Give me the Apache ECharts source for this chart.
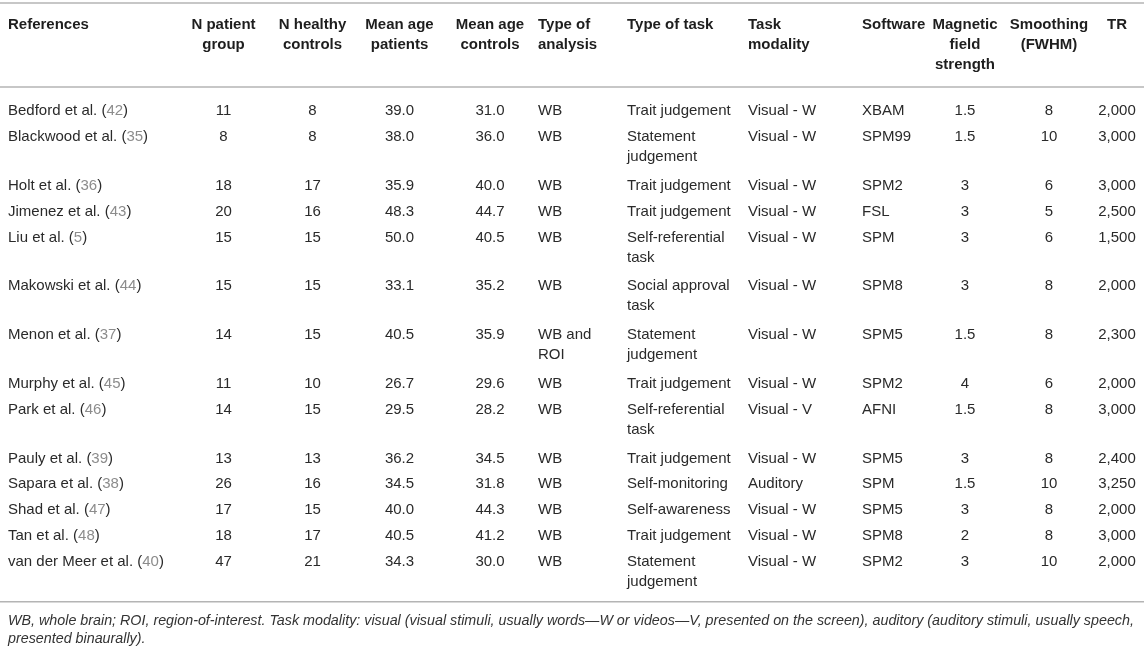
<!DOCTYPE html>
<html><head><meta charset="utf-8">
<script src="https://cdn.jsdelivr.net/npm/echarts@6/dist/echarts.min.js"></script>
<style>html,body{margin:0;padding:0;background:#fff}#c{width:1144px;height:649px}</style>
</head><body><div id="c"></div>
<script>
// ---------- data ----------
const headers = ['References', 'N patient\ngroup', 'N healthy\ncontrols', 'Mean age\npatients', 'Mean age\ncontrols',
  'Type of\nanalysis', 'Type of task', 'Task\nmodality', 'Software', 'Magnetic\nfield\nstrength', 'Smoothing\n(FWHM)', 'TR'];
const authors = ['Bedford et al.', 'Blackwood et al.', 'Holt et al.', 'Jimenez et al.', 'Liu et al.', 'Makowski et al.',
  'Menon et al.', 'Murphy et al.', 'Park et al.', 'Pauly et al.', 'Sapara et al.', 'Shad et al.', 'Tan et al.', 'van der Meer et al.'];
const refNums = [42, 35, 36, 43, 5, 44, 37, 45, 46, 39, 38, 47, 48, 40];
const nPatients = [11, 8, 18, 20, 15, 15, 14, 11, 14, 13, 26, 17, 18, 47];
const nControls = [8, 8, 17, 16, 15, 15, 15, 10, 15, 13, 16, 15, 17, 21];
const agePatients = [39.0, 38.0, 35.9, 48.3, 50.0, 33.1, 40.5, 26.7, 29.5, 36.2, 34.5, 40.0, 40.5, 34.3];
const ageControls = [31.0, 36.0, 40.0, 44.7, 40.5, 35.2, 35.9, 29.6, 28.2, 34.5, 31.8, 44.3, 41.2, 30.0];
const analysis = ['WB', 'WB', 'WB', 'WB', 'WB', 'WB', 'WB and\nROI', 'WB', 'WB', 'WB', 'WB', 'WB', 'WB', 'WB'];
const taskTypes = ['Trait judgement', 'Statement\njudgement', 'Trait judgement', 'Trait judgement', 'Self-referential\ntask',
  'Social approval\ntask', 'Statement\njudgement', 'Trait judgement', 'Self-referential\ntask', 'Trait judgement',
  'Self-monitoring', 'Self-awareness', 'Trait judgement', 'Statement\njudgement'];
const modality = ['Visual - W', 'Visual - W', 'Visual - W', 'Visual - W', 'Visual - W', 'Visual - W', 'Visual - W',
  'Visual - W', 'Visual - V', 'Visual - W', 'Auditory', 'Visual - W', 'Visual - W', 'Visual - W'];
const software = ['XBAM', 'SPM99', 'SPM2', 'FSL', 'SPM', 'SPM8', 'SPM5', 'SPM2', 'AFNI', 'SPM5', 'SPM', 'SPM5', 'SPM8', 'SPM2'];
const fieldStrength = [1.5, 1.5, 3, 3, 3, 3, 1.5, 4, 1.5, 3, 1.5, 3, 2, 3];
const smoothing = [8, 10, 6, 5, 6, 8, 8, 6, 8, 8, 10, 8, 8, 10];
const trValues = [2000, 3000, 3000, 2500, 1500, 2000, 2300, 2000, 3000, 2400, 3250, 2000, 3000, 2000];
const footnote = 'WB, whole brain; ROI, region-of-interest. Task modality: visual (visual stimuli, usually words\u2014W or videos\u2014V, presented on the screen), auditory (auditory stimuli, usually speech,\npresented binaurally).';

// ---------- layout (styles & positions) ----------
const FONT = '"Liberation Sans", Arial, Helvetica, sans-serif';
const W = 1144, H = 649;
const L = {
  fontSize: 15, lineH: 20,
  topRule: 3, headerTextTop: 14.5, headerRule: 87,
  bodyTop: 97, rowH: 25.8, extraLineH: 23, textOffset: 4.2, bottomPad: 5.5,
  textColor: '#2a2a2a', headColor: '#1e1e1e', refColor: '#8c8c8c', ruleColor: '#b4b4b4'
};
const colSpec = [
  { x: 8, align: 'left' },
  { x: 223.5, align: 'center' },
  { x: 312.5, align: 'center' },
  { x: 399.5, align: 'center' },
  { x: 490, align: 'center' },
  { x: 538, align: 'left' },
  { x: 627, align: 'left' },
  { x: 748, align: 'left' },
  { x: 862, align: 'left' },
  { x: 965, align: 'center' },
  { x: 1049, align: 'center' },
  { x: 1117, align: 'center' }
];

const fmtThousands = v => String(v).replace(/\B(?=(\d{3})+(?!\d))/g, ',');
const rows = authors.map((a, r) => [
  a + ' ({g|' + refNums[r] + '})',
  String(nPatients[r]), String(nControls[r]),
  agePatients[r].toFixed(1), ageControls[r].toFixed(1),
  analysis[r], taskTypes[r], modality[r], software[r],
  String(fieldStrength[r]), String(smoothing[r]), fmtThousands(trValues[r])
]);

// row tops from line counts
const rowTops = [];
let yCur = L.bodyTop;
rows.forEach(cells => {
  rowTops.push(yCur);
  const lines = Math.max(...cells.map(t => t.split('\n').length));
  yCur += L.rowH + (lines - 1) * L.extraLineH;
});
const bottomRule = yCur + L.bottomPad;

// custom-series data: [x, y, col, row]
const cellData = [];
headers.forEach((h, c) => cellData.push([colSpec[c].x, L.headerTextTop, c, -1]));
rows.forEach((cells, r) => cells.forEach((t, c) => cellData.push([colSpec[c].x, rowTops[r] + L.textOffset, c, r])));
const ruleData = [[0, L.topRule], [0, L.headerRule], [0, bottomRule]];

const chart = echarts.init(document.getElementById('c'), null, { renderer: 'canvas' });
chart.setOption({
  backgroundColor: '#fff',
  animation: false,
  title: {
    text: footnote, left: 8, top: bottomRule + 10, padding: 0,
    textStyle: { fontFamily: FONT, fontSize: 14.3, fontStyle: 'italic', fontWeight: 'normal', color: '#333', lineHeight: 18 }
  },
  grid: { left: 0, right: 0, top: 0, bottom: 0 },
  xAxis: { type: 'value', min: 0, max: W, show: false },
  yAxis: { type: 'value', min: 0, max: H, inverse: true, show: false },
  series: [
    {
      type: 'custom', name: 'rules', silent: true, clip: false,
      data: ruleData,
      renderItem: (params, api) => {
        const a = api.coord([0, api.value(1)]);
        const b = api.coord([W, api.value(1)]);
        return { type: 'line', shape: { x1: a[0], y1: a[1], x2: b[0], y2: b[1] }, style: { stroke: L.ruleColor, lineWidth: 1.5 } };
      }
    },
    {
      type: 'custom', name: 'cells', silent: true, clip: false,
      data: cellData,
      renderItem: (params, api) => {
        const c = api.value(2), r = api.value(3);
        const p = api.coord([api.value(0), api.value(1)]);
        const isHead = r < 0;
        const text = isHead ? headers[c] : rows[r][c];
        return {
          type: 'text', x: p[0], y: p[1],
          style: {
            text: text,
            fill: isHead ? L.headColor : L.textColor,
            fontFamily: FONT, fontSize: L.fontSize, fontWeight: isHead ? 'bold' : 'normal',
            align: colSpec[c].align, verticalAlign: 'top', lineHeight: L.lineH,
            rich: { g: { fill: L.refColor, fontFamily: FONT, fontSize: L.fontSize, lineHeight: L.lineH } }
          }
        };
      }
    }
  ]
});
</script></body></html>
